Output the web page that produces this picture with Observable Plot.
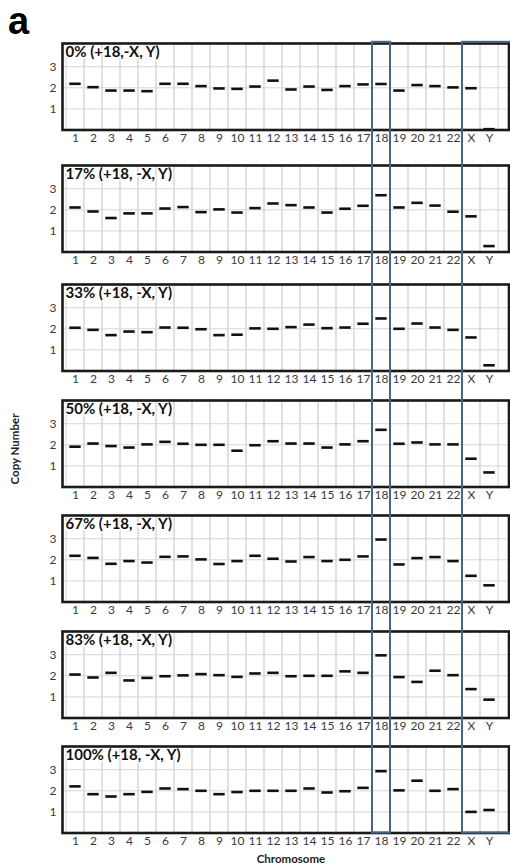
<!DOCTYPE html>
<html>
<head>
<meta charset="utf-8">
<script src="https://cdn.jsdelivr.net/npm/d3@7"></script>
<script src="https://cdn.jsdelivr.net/npm/@observablehq/plot@0.6"></script>
<style>
  html, body { margin: 0; padding: 0; background: #fff; }
  #fig { position: relative; width: 510px; height: 868px; background: #fff; overflow: hidden; font-family: Lato, "Open Sans", sans-serif; }
  #fig .abs { position: absolute; }
  #panelA { left: 8px; top: 9.3px; font: bold 38px/24px "Liberation Sans", Arial, sans-serif; color: #000; }
  #ylab { left: 14px; top: 449px; transform: translate(-50%, -50%) rotate(-90deg); font-weight: bold; font-size: 11.5px; color: #222; white-space: nowrap; }
  #xlab { left: 291px; top: 858px; transform: translate(-50%, -50%); font-weight: bold; font-size: 11.5px; color: #222; white-space: nowrap; }
</style>
</head>
<body>
<div id="fig">
  <div id="panelA" class="abs">a</div>
  <div id="ylab" class="abs">Copy Number</div>
  <div id="xlab" class="abs">Chromosome</div>
</div>
<script>
// ---------- data ----------
const chromosomes = ["1","2","3","4","5","6","7","8","9","10","11","12","13","14","15","16","17","18","19","20","21","22","X","Y"];
const panelTitles = ["0% (+18,-X, Y)", "17% (+18, -X, Y)", "33% (+18, -X, Y)", "50% (+18, -X, Y)", "67% (+18, -X, Y)", "83% (+18, -X, Y)", "100% (+18, -X, Y)"];
const yTicks = [1, 2, 3];
const highlighted = ["18", "X"];

const cn0   = [2.19,2.03,1.87,1.87,1.84,2.19,2.19,2.08,1.97,1.95,2.06,2.34,1.92,2.06,1.90,2.08,2.16,2.18,1.87,2.13,2.08,2.02,1.98,0.04];
const cn17  = [2.11,1.92,1.61,1.83,1.83,2.06,2.13,1.89,2.02,1.87,2.08,2.30,2.22,2.11,1.87,2.05,2.19,2.69,2.11,2.33,2.20,1.91,1.69,0.28];
const cn33  = [2.05,1.95,1.70,1.87,1.84,2.06,2.05,1.98,1.70,1.72,2.02,2.00,2.08,2.20,2.03,2.06,2.24,2.49,2.00,2.25,2.06,1.95,1.59,0.27];
const cn50  = [1.91,2.06,1.94,1.87,2.02,2.14,2.05,2.00,2.00,1.72,1.98,2.17,2.06,2.06,1.87,2.02,2.17,2.71,2.05,2.11,2.02,2.02,1.34,0.69];
const cn67  = [2.19,2.09,1.81,1.94,1.87,2.14,2.16,2.02,1.80,1.94,2.19,2.05,1.92,2.13,1.94,2.00,2.16,2.96,1.78,2.08,2.13,1.94,1.24,0.79];
const cn83  = [2.06,1.92,2.14,1.78,1.90,1.98,2.02,2.08,2.03,1.95,2.11,2.14,1.98,2.00,2.00,2.21,2.14,2.97,1.94,1.71,2.24,2.03,1.37,0.87];
const cn100 = [2.21,1.84,1.73,1.84,1.95,2.11,2.08,2.00,1.84,1.94,2.00,2.00,2.00,2.11,1.92,1.98,2.14,2.93,2.02,2.48,2.00,2.08,1.00,1.09];
const panelValues = [cn0, cn17, cn33, cn50, cn67, cn83, cn100];

// ---------- layout ----------
const W = 510;
const xRange = [62, 502];
const colW = (xRange[1] - xRange[0]) / chromosomes.length;
const frameTops = [43.3, 165, 284.3, 400, 515, 630.7, 746];
const inner = 86.5;
const mt = 4, mb = 22;
const fig = document.getElementById("fig");

panelValues.forEach((vals, p) => {
  const data = chromosomes.map((c, i) => ({chr: c, cn: vals[i]}));
  const chart = Plot.plot({
    width: W,
    height: mt + inner + mb,
    marginTop: mt, marginBottom: mb, marginLeft: 62, marginRight: 1.5,
    style: {fontFamily: "Lato, 'Open Sans', sans-serif", fontSize: "12px", color: "#3a3a3a", background: "transparent", overflow: "visible"},
    x: {type: "band", domain: chromosomes, range: xRange, padding: 0, tickSize: 0, tickPadding: 3, label: null},
    y: {domain: [0, 4.1], ticks: yTicks, tickFormat: d => String(d), tickSize: 0, tickPadding: 6, label: null},
    marks: [
      Plot.cell(chromosomes, {x: d => d, fill: "none", stroke: "#d6d6d6", strokeWidth: 1}),
      Plot.ruleY(yTicks, {stroke: "#d6d6d6", strokeWidth: 1}),
      Plot.text([panelTitles[p]], {frameAnchor: "top-left", dx: 3, dy: 3, text: d => d, textAnchor: "start", lineAnchor: "top", fontWeight: "bold", fontSize: 15, fill: "#111", stroke: "white", strokeWidth: 3}),
      Plot.tickY(data, {x: "chr", y: "cn", stroke: "#111", strokeWidth: 2.6, insetLeft: 3.3, insetRight: 3.3}),
      Plot.frame({stroke: "#1a1a1a", strokeWidth: 2.6})
    ]
  });
  chart.classList.add("abs");
  chart.style.left = "0px";
  chart.style.top = (frameTops[p] - mt) + "px";
  fig.appendChild(chart);
});

// blue highlight boxes spanning all panels (X box runs past the right edge)
const overlay = Plot.plot({
  width: W, height: 868,
  marginTop: 0, marginBottom: 0, marginLeft: 0, marginRight: 0,
  style: {background: "transparent", overflow: "visible", pointerEvents: "none"},
  x: {type: "band", domain: chromosomes, range: xRange, padding: 0, axis: null},
  y: {domain: [0, 1], range: [frameTops[6] + inner, frameTops[0] - 1.5], axis: null},
  marks: [
    Plot.barY([highlighted[0]], {x: d => d, y: 1, fill: "none", stroke: "#47648b", strokeWidth: 2}),
    Plot.barY([highlighted[1]], {x: d => d, y: 1, fill: "none", stroke: "#47648b", strokeWidth: 2, insetRight: -(colW + 20)})
  ]
});
overlay.classList.add("abs");
overlay.style.left = "0px";
overlay.style.top = "0px";
fig.appendChild(overlay);
</script>
</body>
</html>
